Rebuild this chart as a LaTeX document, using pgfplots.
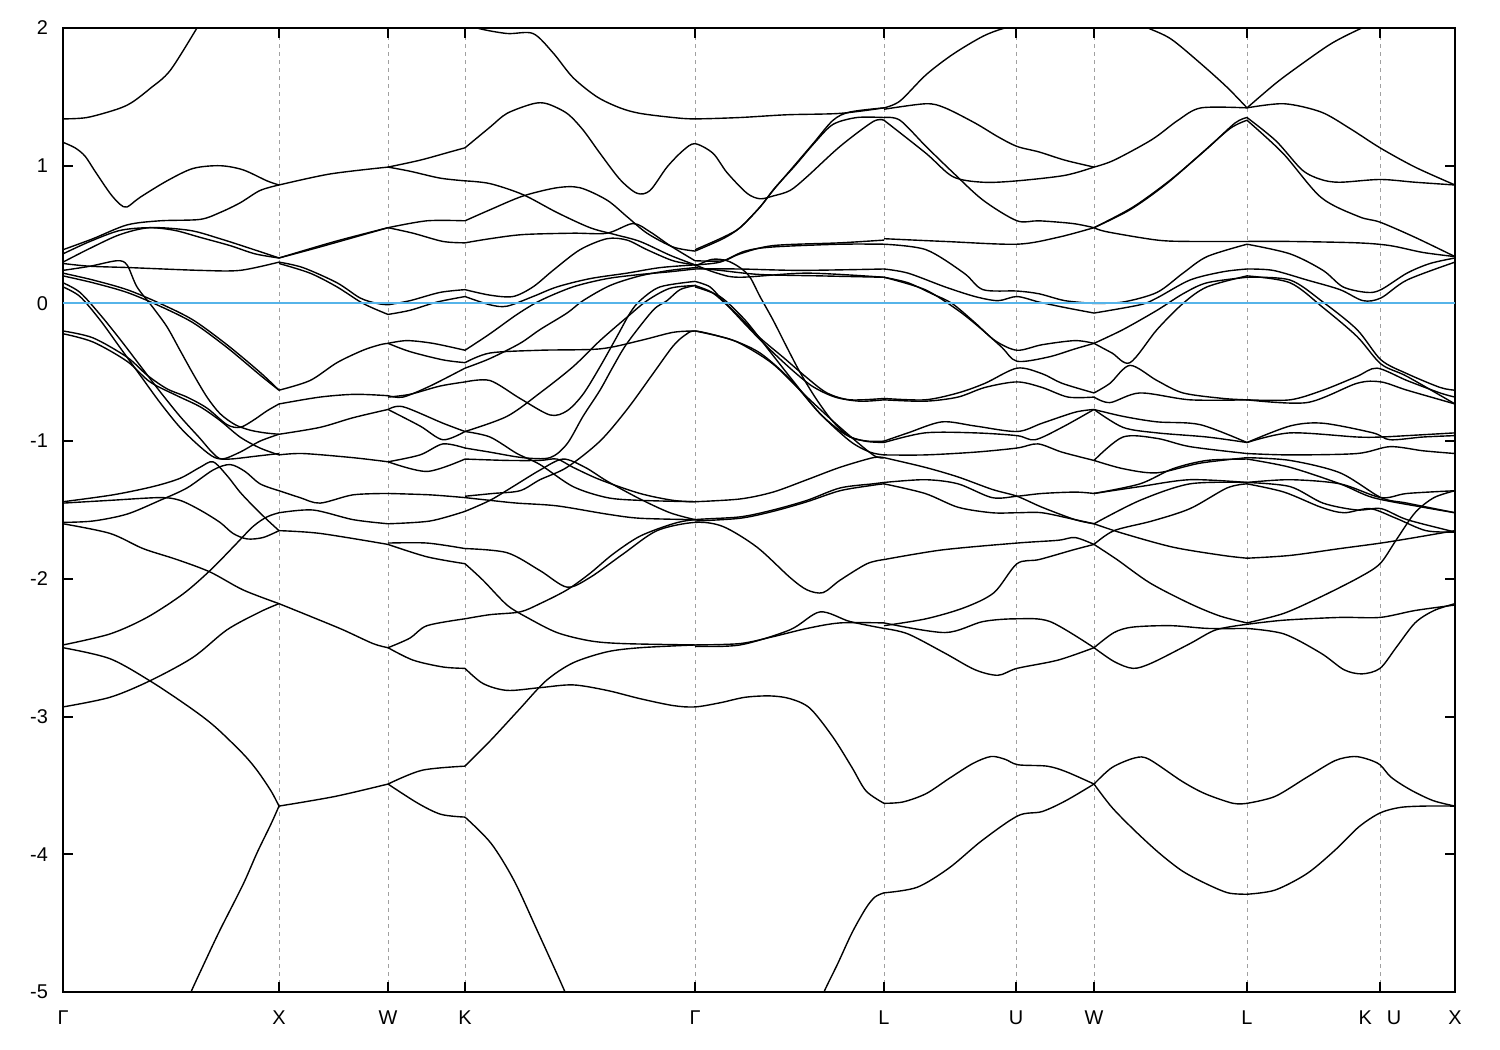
\documentclass[border=0pt]{standalone}
\usepackage{fontspec}
\setmainfont{Liberation Sans}
\usepackage{pgfplots}
\pgfplotsset{compat=1.18}
\definecolor{zeroblue}{RGB}{86,180,233}
\definecolor{gridgray}{RGB}{160,160,160}
\pgfplotsset{band/.style={black,line width=0.7pt,smooth,tension=0.5,mark=none}}
\begin{document}
\begin{tikzpicture}
\begin{axis}[
  name=ax,
  scale only axis, width=696bp, height=482bp,
  xmin=63, xmax=1455, ymin=-5, ymax=2,
  axis line style={line width=1pt},
  xtick={63,279,388,465,695,884,1016,1094,1247,1380,1455},
  xticklabels={Γ,X,W,K,Γ,L,U,W,L,K\hspace{0.75em}U,X},
  ytick={-5,-4,-3,-2,-1,0,1,2},
  yticklabels={-5,-4,-3,-2,-1,0,1,2},
  tick align=inside,
  major tick length=5bp,
  every tick/.style={black,line width=1pt},
  xmajorgrids,
  major x grid style={gridgray,line width=0.5pt,dash pattern=on 2bp off 2bp},
  tick label style={font=\fontsize{10}{12}\selectfont},
  yticklabel style={xshift=-4bp},
  xticklabel style={yshift=-6bp},
]
% ---- Gamma -> X
\addplot[band] coordinates {(63,1.34)(87,1.35)(117,1.41)(132,1.46)(150,1.56)(170,1.69)(197,2.0)(205,2.1)};
\addplot[band] coordinates {(63,1.17)(75,1.13)(85,1.07)(95,0.96)(110,0.80)(120,0.72)(127,0.70)(140,0.77)(167,0.89)(193,0.98)(220,1.0)(243,0.97)(267,0.89)(279,0.86)};
\addplot[band] coordinates {(63,0.39)(93,0.47)(127,0.57)(160,0.60)(200,0.61)(220,0.66)(240,0.73)(260,0.82)(279,0.86)};
\addplot[band] coordinates {(63,0.36)(90,0.45)(120,0.53)(150,0.55)(175,0.53)(200,0.48)(230,0.42)(255,0.36)(279,0.33)};
\addplot[band] coordinates {(63,0.30)(90,0.40)(120,0.50)(150,0.55)(190,0.53)(220,0.47)(250,0.40)(279,0.33)};
\addplot[band] coordinates {(63,0.29)(90,0.27)(130,0.26)(200,0.24)(240,0.24)(279,0.30)};
\addplot[band] coordinates {(63,0.22)(93,0.17)(127,0.10)(160,0.0)(193,-0.12)(227,-0.30)(260,-0.50)(279,-0.63)};
\addplot[band] coordinates {(63,0.20)(93,0.15)(127,0.08)(160,-0.02)(193,-0.14)(227,-0.32)(260,-0.52)(279,-0.63)};
\addplot[band] coordinates {(63,0.24)(90,0.27)(117,0.31)(127,0.28)(137,0.12)(153,-0.03)(167,-0.17)(180,-0.34)(193,-0.51)(207,-0.68)(220,-0.80)(235,-0.88)(250,-0.92)(265,-0.94)(279,-0.95)};
\addplot[band] coordinates {(63,-0.2)(93,-0.25)(127,-0.39)(147,-0.52)(167,-0.62)(187,-0.68)(207,-0.76)(227,-0.88)(240,-0.90)(253,-0.85)(267,-0.78)(279,-0.73)};
\addplot[band] coordinates {(63,-0.22)(93,-0.28)(127,-0.42)(150,-0.57)(177,-0.67)(200,-0.75)(220,-0.85)(240,-0.97)(260,-1.05)(279,-1.10)};
\addplot[band] coordinates {(63,0.15)(80,0.08)(100,-0.08)(120,-0.26)(140,-0.45)(160,-0.64)(180,-0.82)(200,-0.98)(212,-1.08)(222,-1.13)(240,-1.08)(260,-1.0)(279,-0.95)};
\addplot[band] coordinates {(63,0.12)(80,0.05)(100,-0.12)(120,-0.32)(140,-0.52)(160,-0.72)(180,-0.90)(200,-1.04)(215,-1.12)(230,-1.13)(255,-1.11)(279,-1.09)};
\addplot[band] coordinates {(63,-1.44)(113,-1.39)(153,-1.33)(180,-1.27)(200,-1.19)(213,-1.15)(227,-1.25)(240,-1.37)(253,-1.47)(267,-1.57)(279,-1.65)};
\addplot[band] coordinates {(63,-1.45)(110,-1.43)(160,-1.41)(180,-1.43)(200,-1.50)(220,-1.59)(233,-1.67)(247,-1.71)(263,-1.70)(279,-1.65)};
\addplot[band] coordinates {(63,-1.59)(93,-1.58)(127,-1.53)(160,-1.43)(187,-1.34)(213,-1.21)(230,-1.17)(245,-1.22)(260,-1.31)(279,-1.36)};
\addplot[band] coordinates {(63,-1.60)(110,-1.67)(143,-1.78)(177,-1.86)(210,-1.95)(243,-2.08)(279,-2.18)};
\addplot[band] coordinates {(63,-2.48)(110,-2.40)(147,-2.28)(183,-2.11)(210,-1.94)(233,-1.77)(253,-1.62)(267,-1.55)(279,-1.52)};
\addplot[band] coordinates {(63,-2.50)(110,-2.58)(152,-2.75)(193,-2.95)(216,-3.08)(243,-3.27)(257,-3.39)(271,-3.54)(279,-3.65)};
\addplot[band] coordinates {(63,-2.93)(110,-2.86)(150,-2.74)(193,-2.57)(227,-2.37)(260,-2.24)(279,-2.18)};
\addplot[band] coordinates {(186,-5.1)(191,-5.0)(205,-4.78)(220,-4.55)(243,-4.22)(257,-3.99)(271,-3.78)(279,-3.65)};
% ---- X -> W
\addplot[band] coordinates {(279,0.86)(330,0.94)(388,0.99)};
\addplot[band] coordinates {(279,0.33)(335,0.45)(388,0.55)};
\addplot[band] coordinates {(279,0.33)(320,0.41)(388,0.55)};
\addplot[band] coordinates {(279,0.30)(303,0.26)(337,0.15)(360,0.04)(377,0.0)(388,-0.01)};
\addplot[band] coordinates {(279,0.29)(310,0.22)(337,0.12)(363,0.0)(388,-0.08)};
\addplot[band] coordinates {(279,-0.63)(310,-0.56)(337,-0.43)(363,-0.34)(380,-0.30)(388,-0.29)};
\addplot[band] coordinates {(279,-0.73)(320,-0.68)(355,-0.66)(388,-0.67)};
\addplot[band] coordinates {(279,-0.95)(320,-0.90)(353,-0.83)(388,-0.77)};
\addplot[band] coordinates {(279,-1.10)(303,-1.09)(353,-1.12)(388,-1.15)};
\addplot[band] coordinates {(279,-1.36)(300,-1.41)(320,-1.45)(353,-1.39)(388,-1.38)};
\addplot[band] coordinates {(279,-1.52)(313,-1.50)(353,-1.57)(388,-1.60)};
\addplot[band] coordinates {(279,-1.65)(320,-1.67)(388,-1.75)};
\addplot[band] coordinates {(279,-2.18)(313,-2.28)(343,-2.37)(373,-2.47)(388,-2.50)};
\addplot[band] coordinates {(279,-3.65)(335,-3.58)(388,-3.49)};
% ---- W -> K
\addplot[band] coordinates {(388,0.99)(420,1.04)(450,1.10)(465,1.13)};
\addplot[band] coordinates {(388,0.99)(410,0.96)(440,0.91)(465,0.89)};
\addplot[band] coordinates {(388,0.55)(427,0.60)(465,0.60)};
\addplot[band] coordinates {(388,0.55)(413,0.51)(443,0.45)(465,0.44)};
\addplot[band] coordinates {(388,-0.01)(410,0.02)(440,0.08)(465,0.10)};
\addplot[band] coordinates {(388,-0.08)(410,-0.05)(437,0.01)(465,0.05)};
\addplot[band] coordinates {(388,-0.29)(407,-0.27)(433,-0.29)(465,-0.34)};
\addplot[band] coordinates {(388,-0.29)(410,-0.35)(443,-0.41)(465,-0.43)};
\addplot[band] coordinates {(388,-0.67)(403,-0.68)(430,-0.60)(465,-0.47)};
\addplot[band] coordinates {(388,-0.68)(410,-0.66)(440,-0.60)(465,-0.57)};
\addplot[band] coordinates {(388,-0.77)(403,-0.75)(443,-0.87)(465,-0.93)};
\addplot[band] coordinates {(388,-0.77)(420,-0.89)(443,-0.99)(465,-0.93)};
\addplot[band] coordinates {(388,-1.15)(420,-1.10)(443,-1.02)(465,-1.05)};
\addplot[band] coordinates {(388,-1.15)(427,-1.22)(465,-1.13)};
\addplot[band] coordinates {(388,-1.38)(430,-1.39)(465,-1.41)};
\addplot[band] coordinates {(388,-1.60)(430,-1.58)(465,-1.51)};
\addplot[band] coordinates {(388,-1.74)(427,-1.74)(465,-1.78)};
\addplot[band] coordinates {(388,-1.75)(427,-1.84)(465,-1.89)};
\addplot[band] coordinates {(388,-2.50)(410,-2.43)(427,-2.34)(465,-2.29)};
\addplot[band] coordinates {(388,-2.50)(413,-2.59)(443,-2.64)(465,-2.65)};
\addplot[band] coordinates {(388,-3.49)(422,-3.39)(465,-3.36)};
\addplot[band] coordinates {(388,-3.49)(418,-3.63)(441,-3.71)(465,-3.73)};
% ---- K -> Gamma (some continue to L)
\addplot[band] coordinates {(460,2.06)(477,2.0)(507,1.96)(533,1.96)(553,1.82)(573,1.64)(597,1.50)(620,1.42)(640,1.38)(673,1.35)(695,1.34)(740,1.35)(787,1.37)(840,1.38)(884,1.42)};
\addplot[band] coordinates {(465,1.13)(490,1.28)(507,1.38)(533,1.45)(547,1.45)(567,1.38)(583,1.26)(600,1.09)(620,0.90)(637,0.80)(650,0.82)(667,0.99)(683,1.11)(695,1.16)(713,1.09)(727,0.95)(747,0.80)(760,0.76)(773,0.78)(790,0.82)(807,0.92)(840,1.14)(873,1.32)(884,1.33)};
\addplot[band] coordinates {(465,0.89)(490,0.87)(523,0.79)(557,0.66)(590,0.55)(615,0.50)(640,0.45)(670,0.35)(695,0.28)};
\addplot[band] coordinates {(465,0.60)(490,0.68)(523,0.78)(557,0.84)(580,0.84)(607,0.75)(627,0.63)(647,0.51)(673,0.41)(695,0.38)};
\addplot[band] coordinates {(465,0.44)(490,0.47)(523,0.50)(573,0.51)(607,0.51)(633,0.58)(650,0.52)(670,0.42)(695,0.31)};
\addplot[band] coordinates {(465,0.10)(490,0.06)(513,0.05)(533,0.12)(553,0.24)(580,0.39)(607,0.47)(627,0.46)(647,0.39)(673,0.31)(695,0.28)};
\addplot[band] coordinates {(465,0.05)(490,-0.01)(507,-0.02)(533,0.05)(557,0.12)(590,0.18)(627,0.22)(660,0.26)(695,0.28)};
\addplot[band] coordinates {(465,-0.34)(490,-0.22)(517,-0.08)(540,0.02)(573,0.12)(607,0.18)(640,0.21)(670,0.23)(695,0.25)};
\addplot[band] coordinates {(465,-0.43)(490,-0.36)(540,-0.34)(600,-0.33)(640,-0.27)(673,-0.21)(695,-0.20)};
\addplot[band] coordinates {(465,-0.47)(490,-0.40)(520,-0.29)(540,-0.19)(567,-0.07)(583,0.02)(610,0.13)(640,0.20)(670,0.24)(695,0.26)};
\addplot[band] coordinates {(465,-0.57)(490,-0.56)(520,-0.69)(550,-0.81)(567,-0.78)(583,-0.66)(600,-0.46)(617,-0.24)(630,-0.07)(640,0.02)(660,0.12)(695,0.16)};
\addplot[band] coordinates {(465,-0.93)(507,-0.82)(540,-0.65)(573,-0.46)(600,-0.27)(627,-0.10)(647,0.02)(670,0.11)(695,0.13)};
\addplot[band] coordinates {(465,-0.93)(490,-0.97)(517,-1.09)(540,-1.17)(573,-1.33)(607,-1.41)(640,-1.43)(695,-1.44)};
\addplot[band] coordinates {(465,-1.05)(490,-1.08)(523,-1.12)(550,-1.12)(567,-1.02)(583,-0.82)(600,-0.63)(613,-0.46)(627,-0.29)(653,-0.05)(667,0.02)(680,0.10)(695,0.13)};
\addplot[band] coordinates {(465,-1.13)(507,-1.14)(540,-1.14)(557,-1.13)(573,-1.19)(600,-1.28)(640,-1.38)(673,-1.43)(695,-1.44)};
\addplot[band] coordinates {(465,-1.41)(490,-1.43)(517,-1.45)(557,-1.47)(607,-1.53)(640,-1.56)(695,-1.57)};
\addplot[band] coordinates {(465,-1.40)(493,-1.38)(520,-1.36)(540,-1.28)(567,-1.19)(600,-1.0)(627,-0.77)(653,-0.51)(673,-0.31)(685,-0.23)(695,-0.2)(720,-0.24)(740,-0.29)(773,-0.44)(807,-0.68)(840,-0.90)(873,-1.10)(884,-1.12)};
\addplot[band] coordinates {(465,-1.51)(490,-1.43)(513,-1.33)(540,-1.21)(563,-1.13)(585,-1.19)(607,-1.29)(640,-1.42)(670,-1.52)(695,-1.57)};
\addplot[band] coordinates {(465,-1.78)(507,-1.81)(540,-1.94)(567,-2.06)(590,-1.99)(623,-1.82)(657,-1.65)(695,-1.59)(723,-1.62)(757,-1.77)(790,-1.99)(807,-2.08)(823,-2.10)(840,-2.01)(867,-1.89)(884,-1.86)};
\addplot[band] coordinates {(465,-1.89)(483,-2.01)(507,-2.19)(527,-2.28)(557,-2.39)(590,-2.45)(623,-2.47)(695,-2.48)};
\addplot[band] coordinates {(465,-2.29)(490,-2.26)(520,-2.24)(540,-2.18)(567,-2.08)(590,-1.96)(613,-1.82)(640,-1.69)(673,-1.60)(695,-1.57)(740,-1.55)(773,-1.50)(807,-1.43)(840,-1.34)(873,-1.31)(884,-1.30)};
\addplot[band] coordinates {(465,-2.65)(483,-2.76)(507,-2.81)(540,-2.79)(573,-2.77)(607,-2.81)(640,-2.87)(673,-2.92)(695,-2.93)(720,-2.90)(745,-2.86)(770,-2.85)(790,-2.87)(810,-2.94)(833,-3.15)(852,-3.37)(866,-3.54)(884,-3.63)};
\addplot[band] coordinates {(465,-3.36)(491,-3.17)(519,-2.95)(546,-2.74)(573,-2.61)(607,-2.53)(640,-2.50)(695,-2.48)};
\addplot[band] coordinates {(465,-3.73)(491,-3.92)(514,-4.19)(537,-4.55)(565,-5.0)(569,-5.1)};
% ---- Gamma -> L
\addplot[band] coordinates {(695,0.39)(723,0.48)(740,0.55)(760,0.70)(773,0.82)(793,0.99)(813,1.16)(833,1.33)(850,1.39)(884,1.42)};
\addplot[band] coordinates {(695,0.38)(723,0.47)(740,0.55)(760,0.70)(775,0.84)(795,1.0)(815,1.17)(833,1.30)(857,1.35)(884,1.35)};
\addplot[band] coordinates {(695,0.31)(723,0.31)(740,0.36)(773,0.42)(840,0.44)(884,0.46)};
\addplot[band] coordinates {(695,0.28)(720,0.30)(745,0.38)(773,0.41)(840,0.43)(884,0.43)};
\addplot[band] coordinates {(695,0.28)(717,0.22)(740,0.19)(807,0.22)(884,0.19)};
\addplot[band] coordinates {(695,0.25)(740,0.25)(800,0.24)(884,0.25)};
\addplot[band] coordinates {(695,0.26)(720,0.24)(760,0.21)(820,0.20)(884,0.19)};
\addplot[band] coordinates {(695,0.16)(710,0.12)(723,0.02)(740,-0.10)(760,-0.25)(783,-0.39)(807,-0.54)(827,-0.65)(850,-0.70)(884,-0.69)};
\addplot[band] coordinates {(695,0.13)(712,0.08)(728,-0.02)(745,-0.15)(765,-0.30)(790,-0.47)(812,-0.60)(835,-0.68)(860,-0.71)(884,-0.70)};
\addplot[band] coordinates {(695,0.27)(712,0.32)(727,0.31)(740,0.26)(750,0.19)(760,0.05)(773,-0.12)(787,-0.32)(800,-0.50)(815,-0.68)(832,-0.85)(850,-0.97)(868,-1.0)(884,-1.0)};
\addplot[band] coordinates {(695,0.12)(720,0.05)(745,-0.12)(770,-0.35)(795,-0.58)(820,-0.80)(845,-0.95)(865,-1.0)(884,-1.01)};
\addplot[band] coordinates {(695,-0.2)(730,-0.26)(760,-0.36)(790,-0.55)(820,-0.80)(850,-1.00)(870,-1.08)(884,-1.10)};
\addplot[band] coordinates {(695,-1.44)(740,-1.42)(773,-1.37)(807,-1.28)(840,-1.19)(873,-1.12)(884,-1.12)};
\addplot[band] coordinates {(695,-1.58)(740,-1.56)(773,-1.51)(807,-1.44)(840,-1.36)(873,-1.32)(884,-1.31)};
\addplot[band] coordinates {(695,-2.48)(740,-2.47)(773,-2.42)(807,-2.36)(840,-2.32)(884,-2.32)};
\addplot[band] coordinates {(695,-2.49)(740,-2.48)(790,-2.37)(820,-2.24)(850,-2.31)(884,-2.36)};
\addplot[band] coordinates {(820,-5.1)(824,-5.0)(838,-4.79)(852,-4.57)(866,-4.39)(875,-4.31)(884,-4.28)};
% ---- L -> U -> W
\addplot[band] coordinates {(884,1.42)(900,1.47)(926,1.66)(953,1.81)(983,1.94)(1005,2.0)(1040,2.06)(1094,2.1)(1130,2.06)(1148,2.0)(1171,1.92)(1201,1.74)(1227,1.57)(1247,1.42)};
\addplot[band] coordinates {(884,1.41)(926,1.45)(945,1.42)(975,1.31)(998,1.21)(1017,1.14)(1039,1.10)(1065,1.04)(1094,0.99)};
\addplot[band] coordinates {(884,1.35)(900,1.33)(926,1.14)(953,0.95)(983,0.75)(1017,0.60)(1039,0.60)(1073,0.58)(1094,0.55)};
\addplot[band] coordinates {(884,1.33)(926,1.09)(953,0.92)(983,0.88)(1017,0.89)(1065,0.93)(1094,0.99)};
\addplot[band] coordinates {(884,0.47)(945,0.45)(1017,0.43)(1058,0.48)(1094,0.55)};
\addplot[band] coordinates {(884,0.43)(926,0.39)(964,0.22)(983,0.10)(1017,0.09)(1039,0.07)(1065,0.02)(1094,0.0)};
\addplot[band] coordinates {(884,0.25)(908,0.22)(945,0.12)(975,0.05)(998,0.02)(1017,0.05)(1039,0.01)(1065,-0.03)(1094,-0.07)};
\addplot[band] coordinates {(884,0.19)(908,0.15)(932,0.07)(952,0.0)(975,-0.14)(995,-0.27)(1017,-0.34)(1042,-0.30)(1075,-0.27)(1094,-0.29)};
\addplot[band] coordinates {(884,0.19)(925,0.10)(958,-0.05)(982,-0.19)(1002,-0.32)(1017,-0.42)(1048,-0.39)(1075,-0.33)(1094,-0.29)};
\addplot[band] coordinates {(884,-0.69)(925,-0.70)(958,-0.65)(985,-0.58)(1017,-0.47)(1042,-0.51)(1062,-0.58)(1094,-0.65)};
\addplot[band] coordinates {(884,-0.70)(925,-0.71)(958,-0.68)(985,-0.61)(1017,-0.57)(1042,-0.61)(1068,-0.68)(1094,-0.68)};
\addplot[band] coordinates {(884,-1.0)(908,-0.94)(942,-0.86)(975,-0.89)(1017,-0.93)(1042,-0.87)(1075,-0.79)(1094,-0.77)};
\addplot[band] coordinates {(884,-1.01)(925,-0.94)(975,-0.94)(1017,-0.96)(1035,-0.99)(1062,-0.90)(1094,-0.77)};
\addplot[band] coordinates {(884,-1.10)(925,-1.10)(975,-1.08)(1017,-1.05)(1038,-1.02)(1062,-1.08)(1094,-1.14)};
\addplot[band] coordinates {(884,-1.12)(925,-1.19)(958,-1.26)(992,-1.35)(1017,-1.40)(1042,-1.48)(1075,-1.57)(1094,-1.60)};
\addplot[band] coordinates {(884,-1.30)(925,-1.28)(958,-1.31)(992,-1.41)(1017,-1.40)(1042,-1.38)(1075,-1.37)(1094,-1.38)};
\addplot[band] coordinates {(884,-1.31)(925,-1.38)(958,-1.48)(992,-1.52)(1017,-1.52)(1042,-1.52)(1075,-1.57)(1094,-1.60)};
\addplot[band] coordinates {(884,-1.86)(942,-1.79)(1017,-1.74)(1058,-1.72)(1075,-1.70)(1094,-1.75)};
\addplot[band] coordinates {(884,-2.34)(926,-2.29)(964,-2.21)(994,-2.10)(1017,-1.89)(1039,-1.86)(1073,-1.79)(1094,-1.75)};
\addplot[band] coordinates {(884,-2.32)(945,-2.39)(983,-2.31)(1017,-2.29)(1050,-2.31)(1094,-2.50)};
\addplot[band] coordinates {(884,-2.36)(908,-2.40)(945,-2.54)(975,-2.66)(998,-2.70)(1017,-2.65)(1058,-2.59)(1094,-2.50)};
\addplot[band] coordinates {(884,-3.63)(903,-3.62)(926,-3.56)(949,-3.45)(973,-3.34)(991,-3.29)(1005,-3.31)(1018,-3.35)(1047,-3.36)(1066,-3.40)(1094,-3.49)};
\addplot[band] coordinates {(884,-4.28)(917,-4.24)(949,-4.10)(982,-3.90)(1018,-3.72)(1042,-3.69)(1066,-3.61)(1094,-3.49)};
% ---- W -> L
\addplot[band] coordinates {(1094,0.99)(1114,1.04)(1152,1.19)(1178,1.33)(1201,1.42)(1247,1.42)};
\addplot[band] coordinates {(1094,0.55)(1133,0.70)(1171,0.90)(1208,1.13)(1235,1.31)(1247,1.35)};
\addplot[band] coordinates {(1094,0.55)(1130,0.68)(1165,0.86)(1200,1.08)(1230,1.27)(1247,1.33)};
\addplot[band] coordinates {(1094,0.55)(1107,0.52)(1157,0.46)(1190,0.45)(1247,0.45)};
\addplot[band] coordinates {(1094,0.0)(1123,0.01)(1157,0.08)(1183,0.22)(1207,0.34)(1247,0.43)};
\addplot[band] coordinates {(1094,-0.07)(1140,-0.01)(1157,0.04)(1190,0.17)(1223,0.23)(1247,0.25)};
\addplot[band] coordinates {(1094,-0.29)(1123,-0.19)(1157,-0.05)(1183,0.07)(1207,0.15)(1247,0.19)};
\addplot[band] coordinates {(1094,-0.29)(1112,-0.36)(1130,-0.43)(1157,-0.19)(1183,0.0)(1207,0.12)(1247,0.20)};
\addplot[band] coordinates {(1094,-0.65)(1110,-0.58)(1130,-0.45)(1157,-0.56)(1183,-0.65)(1223,-0.69)(1247,-0.70)};
\addplot[band] coordinates {(1094,-0.68)(1110,-0.72)(1140,-0.65)(1190,-0.70)(1247,-0.70)};
\addplot[band] coordinates {(1094,-0.77)(1123,-0.82)(1157,-0.86)(1200,-0.88)(1247,-1.01)};
\addplot[band] coordinates {(1094,-0.77)(1123,-0.90)(1157,-0.94)(1207,-0.97)(1247,-1.01)};
\addplot[band] coordinates {(1094,-1.14)(1123,-0.97)(1157,-0.98)(1190,-1.04)(1247,-1.09)};
\addplot[band] coordinates {(1094,-1.14)(1123,-1.20)(1157,-1.23)(1200,-1.16)(1247,-1.12)};
\addplot[band] coordinates {(1094,-1.38)(1140,-1.31)(1173,-1.20)(1207,-1.14)(1247,-1.13)};
\addplot[band] coordinates {(1094,-1.38)(1140,-1.33)(1190,-1.28)(1247,-1.30)};
\addplot[band] coordinates {(1094,-1.60)(1140,-1.43)(1190,-1.31)(1247,-1.30)};
\addplot[band] coordinates {(1094,-1.60)(1123,-1.67)(1173,-1.77)(1223,-1.83)(1247,-1.85)};
\addplot[band] coordinates {(1094,-1.75)(1114,-1.65)(1152,-1.58)(1190,-1.49)(1227,-1.34)(1247,-1.31)};
\addplot[band] coordinates {(1094,-1.75)(1117,-1.86)(1150,-2.03)(1190,-2.18)(1220,-2.27)(1247,-2.32)};
\addplot[band] coordinates {(1094,-2.50)(1114,-2.39)(1133,-2.35)(1171,-2.34)(1208,-2.36)(1247,-2.36)};
\addplot[band] coordinates {(1094,-2.50)(1114,-2.60)(1133,-2.65)(1152,-2.61)(1190,-2.47)(1216,-2.37)(1247,-2.33)};
\addplot[band] coordinates {(1094,-3.49)(1112,-3.37)(1135,-3.30)(1149,-3.31)(1182,-3.47)(1205,-3.56)(1233,-3.63)(1247,-3.63)};
\addplot[band] coordinates {(1094,-3.49)(1112,-3.66)(1135,-3.83)(1159,-3.99)(1182,-4.12)(1205,-4.21)(1228,-4.28)(1247,-4.29)};
% ---- L -> K|U -> X
\addplot[band] coordinates {(1247,1.42)(1276,1.60)(1302,1.74)(1332,1.89)(1362,2.0)(1390,2.08)};
\addplot[band] coordinates {(1247,1.42)(1284,1.45)(1321,1.39)(1350,1.27)(1380,1.13)(1415,0.99)(1455,0.86)};
\addplot[band] coordinates {(1247,1.35)(1276,1.18)(1302,0.97)(1321,0.90)(1340,0.88)(1380,0.90)(1415,0.88)(1455,0.86)};
\addplot[band] coordinates {(1247,1.33)(1283,1.09)(1321,0.77)(1359,0.63)(1380,0.59)(1415,0.48)(1455,0.34)};
\addplot[band] coordinates {(1247,0.45)(1290,0.45)(1357,0.44)(1390,0.42)(1423,0.37)(1455,0.34)};
\addplot[band] coordinates {(1247,0.43)(1290,0.36)(1323,0.24)(1343,0.12)(1367,0.08)(1381,0.10)(1407,0.22)(1430,0.29)(1455,0.33)};
\addplot[band] coordinates {(1247,0.25)(1273,0.24)(1307,0.17)(1340,0.10)(1363,0.02)(1381,0.04)(1407,0.17)(1455,0.30)};
\addplot[band] coordinates {(1247,0.19)(1290,0.17)(1323,0.01)(1357,-0.19)(1381,-0.41)(1407,-0.51)(1440,-0.61)(1455,-0.63)};
\addplot[band] coordinates {(1247,0.20)(1290,0.15)(1323,-0.03)(1357,-0.24)(1381,-0.44)(1407,-0.53)(1455,-0.73)};
\addplot[band] coordinates {(1247,-0.70)(1290,-0.70)(1323,-0.63)(1357,-0.53)(1377,-0.47)(1407,-0.56)(1440,-0.65)(1455,-0.68)};
\addplot[band] coordinates {(1247,-0.70)(1307,-0.72)(1357,-0.58)(1381,-0.57)(1407,-0.63)(1455,-0.73)};
\addplot[band] coordinates {(1247,-1.01)(1290,-0.89)(1323,-0.87)(1373,-0.94)(1390,-0.99)(1423,-0.97)(1455,-0.96)};
\addplot[band] coordinates {(1247,-1.01)(1290,-0.94)(1357,-0.97)(1381,-0.97)(1407,-0.96)(1455,-0.94)};
\addplot[band] coordinates {(1247,-1.09)(1290,-1.10)(1357,-1.09)(1390,-1.04)(1423,-1.07)(1455,-1.09)};
\addplot[band] coordinates {(1247,-1.12)(1290,-1.14)(1340,-1.23)(1381,-1.41)(1407,-1.45)(1455,-1.52)};
\addplot[band] coordinates {(1247,-1.13)(1290,-1.19)(1340,-1.31)(1373,-1.41)(1423,-1.48)(1455,-1.52)};
\addplot[band] coordinates {(1247,-1.30)(1290,-1.28)(1340,-1.31)(1381,-1.41)(1407,-1.38)(1455,-1.36)};
\addplot[band] coordinates {(1247,-1.30)(1290,-1.33)(1323,-1.45)(1357,-1.50)(1381,-1.49)(1407,-1.57)(1455,-1.66)};
\addplot[band] coordinates {(1247,-1.85)(1290,-1.83)(1340,-1.78)(1381,-1.74)(1415,-1.70)(1455,-1.65)};
\addplot[band] coordinates {(1247,-1.31)(1284,-1.37)(1321,-1.48)(1344,-1.52)(1370,-1.49)(1396,-1.56)(1426,-1.65)(1455,-1.66)};
\addplot[band] coordinates {(1247,-2.32)(1284,-2.25)(1321,-2.13)(1359,-1.99)(1380,-1.89)(1396,-1.72)(1415,-1.52)(1434,-1.41)(1455,-1.36)};
\addplot[band] coordinates {(1247,-2.36)(1284,-2.40)(1321,-2.54)(1344,-2.66)(1362,-2.69)(1380,-2.65)(1396,-2.50)(1415,-2.32)(1434,-2.23)(1455,-2.18)};
\addplot[band] coordinates {(1247,-2.33)(1284,-2.30)(1340,-2.28)(1380,-2.28)(1415,-2.23)(1455,-2.19)};
\addplot[band] coordinates {(1247,-3.63)(1275,-3.58)(1307,-3.44)(1335,-3.32)(1354,-3.29)(1368,-3.31)(1380,-3.35)(1391,-3.44)(1410,-3.53)(1433,-3.61)(1455,-3.65)};
\addplot[band] coordinates {(1247,-4.29)(1275,-4.26)(1307,-4.14)(1335,-3.97)(1359,-3.80)(1380,-3.70)(1400,-3.66)(1424,-3.65)(1455,-3.65)};
% ---- Fermi level
\addplot[zeroblue,line width=1pt] coordinates {(63,0)(1455,0)};
\end{axis}
\pgfresetboundingbox
\path ([xshift=-31.5bp,yshift=-29bp]ax.south west) rectangle ([xshift=22.5bp,yshift=14bp]ax.north east);
\end{tikzpicture}
\end{document}
